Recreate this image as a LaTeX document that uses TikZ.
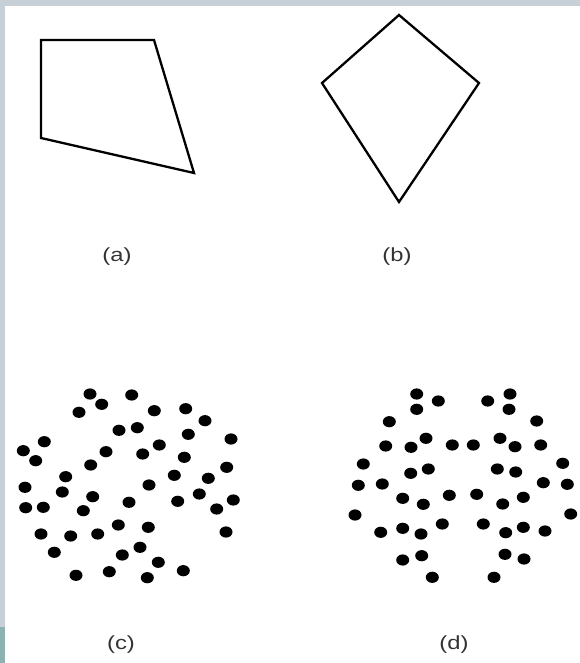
\documentclass[tikz,border=0pt]{standalone}
\usepackage{fontspec}
\setmainfont{Liberation Sans}
\usetikzlibrary{positioning}
\definecolor{framegray}{HTML}{C6D0D6}
\definecolor{frameteal}{HTML}{8DB2B0}
\definecolor{labelgray}{HTML}{333333}

\begin{document}
\begin{tikzpicture}[
    x=1pt, y=-1pt,
    outline/.style={draw=black, line width=2.3pt, line join=miter},
    dot/.style={fill=black},
    lab/.style={font=\fontsize{19}{22}\selectfont, text=labelgray, inner sep=0pt, xscale=1.25}
  ]
    \useasboundingbox (0,0) rectangle (580,663);
    \fill[white] (0,0) rectangle (580,663);
    % frame strips
    \fill[framegray] (0,0) rectangle (580,6);
    \fill[framegray] (0,0) rectangle (5,627);
    \fill[frameteal] (0,627) rectangle (5,663);

    % (a) quadrilateral
    \coordinate (qa1) at (41,40);
    \coordinate (qa2) at (154,40);
    \coordinate (qa3) at (194,173);
    \coordinate (qa4) at (41,138);
    \draw[outline] (qa1) -- (qa2) -- (qa3) -- (qa4) -- cycle;

    % (b) kite
    \coordinate (kb1) at (399,15);
    \coordinate (kb2) at (479,83);
    \coordinate (kb3) at (399,202);
    \coordinate (kb4) at (322,83);
    \draw[outline] (kb1) -- (kb2) -- (kb3) -- (kb4) -- cycle;

    % (c) scattered points
    \foreach \px/\py in {90/394, 131.7/395, 101.7/404.3, 79/412.3, 154.3/410.7,
      185.7/408.7, 205/420.7, 119/430.3, 137.3/427.7, 188.3/434.3, 231/439,
      44.3/441.7, 23.3/450.7, 35.7/460.7, 106/451.7, 142.7/454, 159.3/445,
      184.3/457.3, 90.7/465, 65.7/476.7, 226.7/467.3, 174.3/475.3, 208.3/478.3,
      149/485, 25/487.3, 62.3/492, 92.7/496.7, 199.3/494, 233.3/500,
      25.7/507.7, 43.3/507.3, 83.3/510.7, 129/502.3, 177.7/501.3, 216.7/509,
      118.3/525, 148.3/527.3, 41/534, 70.7/536, 97.7/534, 226/532,
      140/547.3, 54.3/552.3, 122.3/555, 158.3/562.3, 183.3/570.7,
      76/575.3, 109.3/571.7, 147.3/577.7}
      \fill[dot] (\px,\py) ellipse [x radius=6.5pt, y radius=5.6pt];

    % (d) symmetric points
    \foreach \px/\py in {416.7/394, 438.3/401, 416.7/409.3, 487.7/401, 510/394,
      509/409.3, 389.3/421.7, 536.7/421, 385.7/446, 411/447.3, 426/438.3,
      452.3/445, 473.3/445, 500/438.3, 515/446.7, 540.7/445, 363.3/464,
      410.7/473.3, 428.3/469, 497.3/469, 515.7/472, 562.7/463.3,
      358.3/485.3, 382.3/484, 543.3/482.7, 567.3/484.3, 402.7/498.3,
      423.3/504.3, 449.3/495.3, 476.7/494.3, 502.7/504, 523.3/497.3,
      355/515, 570.7/514, 380.7/532.3, 402.7/528.3, 421/534, 442.3/524,
      483.3/524, 505.7/532.7, 523.3/527.3, 545/531, 402.7/560, 421.7/555.7,
      505/554.3, 524/559, 432.3/577.3, 494/577.3}
      \fill[dot] (\px,\py) ellipse [x radius=6.5pt, y radius=5.6pt];

    \node[lab] (laba) at (117,257) {(a)};
    \node[lab] (labb) at (397,257) {(b)};
    \node[lab] (labc) at (121,645) {(c)};
    \node[lab] (labd) at (454,645) {(d)};
  \end{tikzpicture}
\end{document}
